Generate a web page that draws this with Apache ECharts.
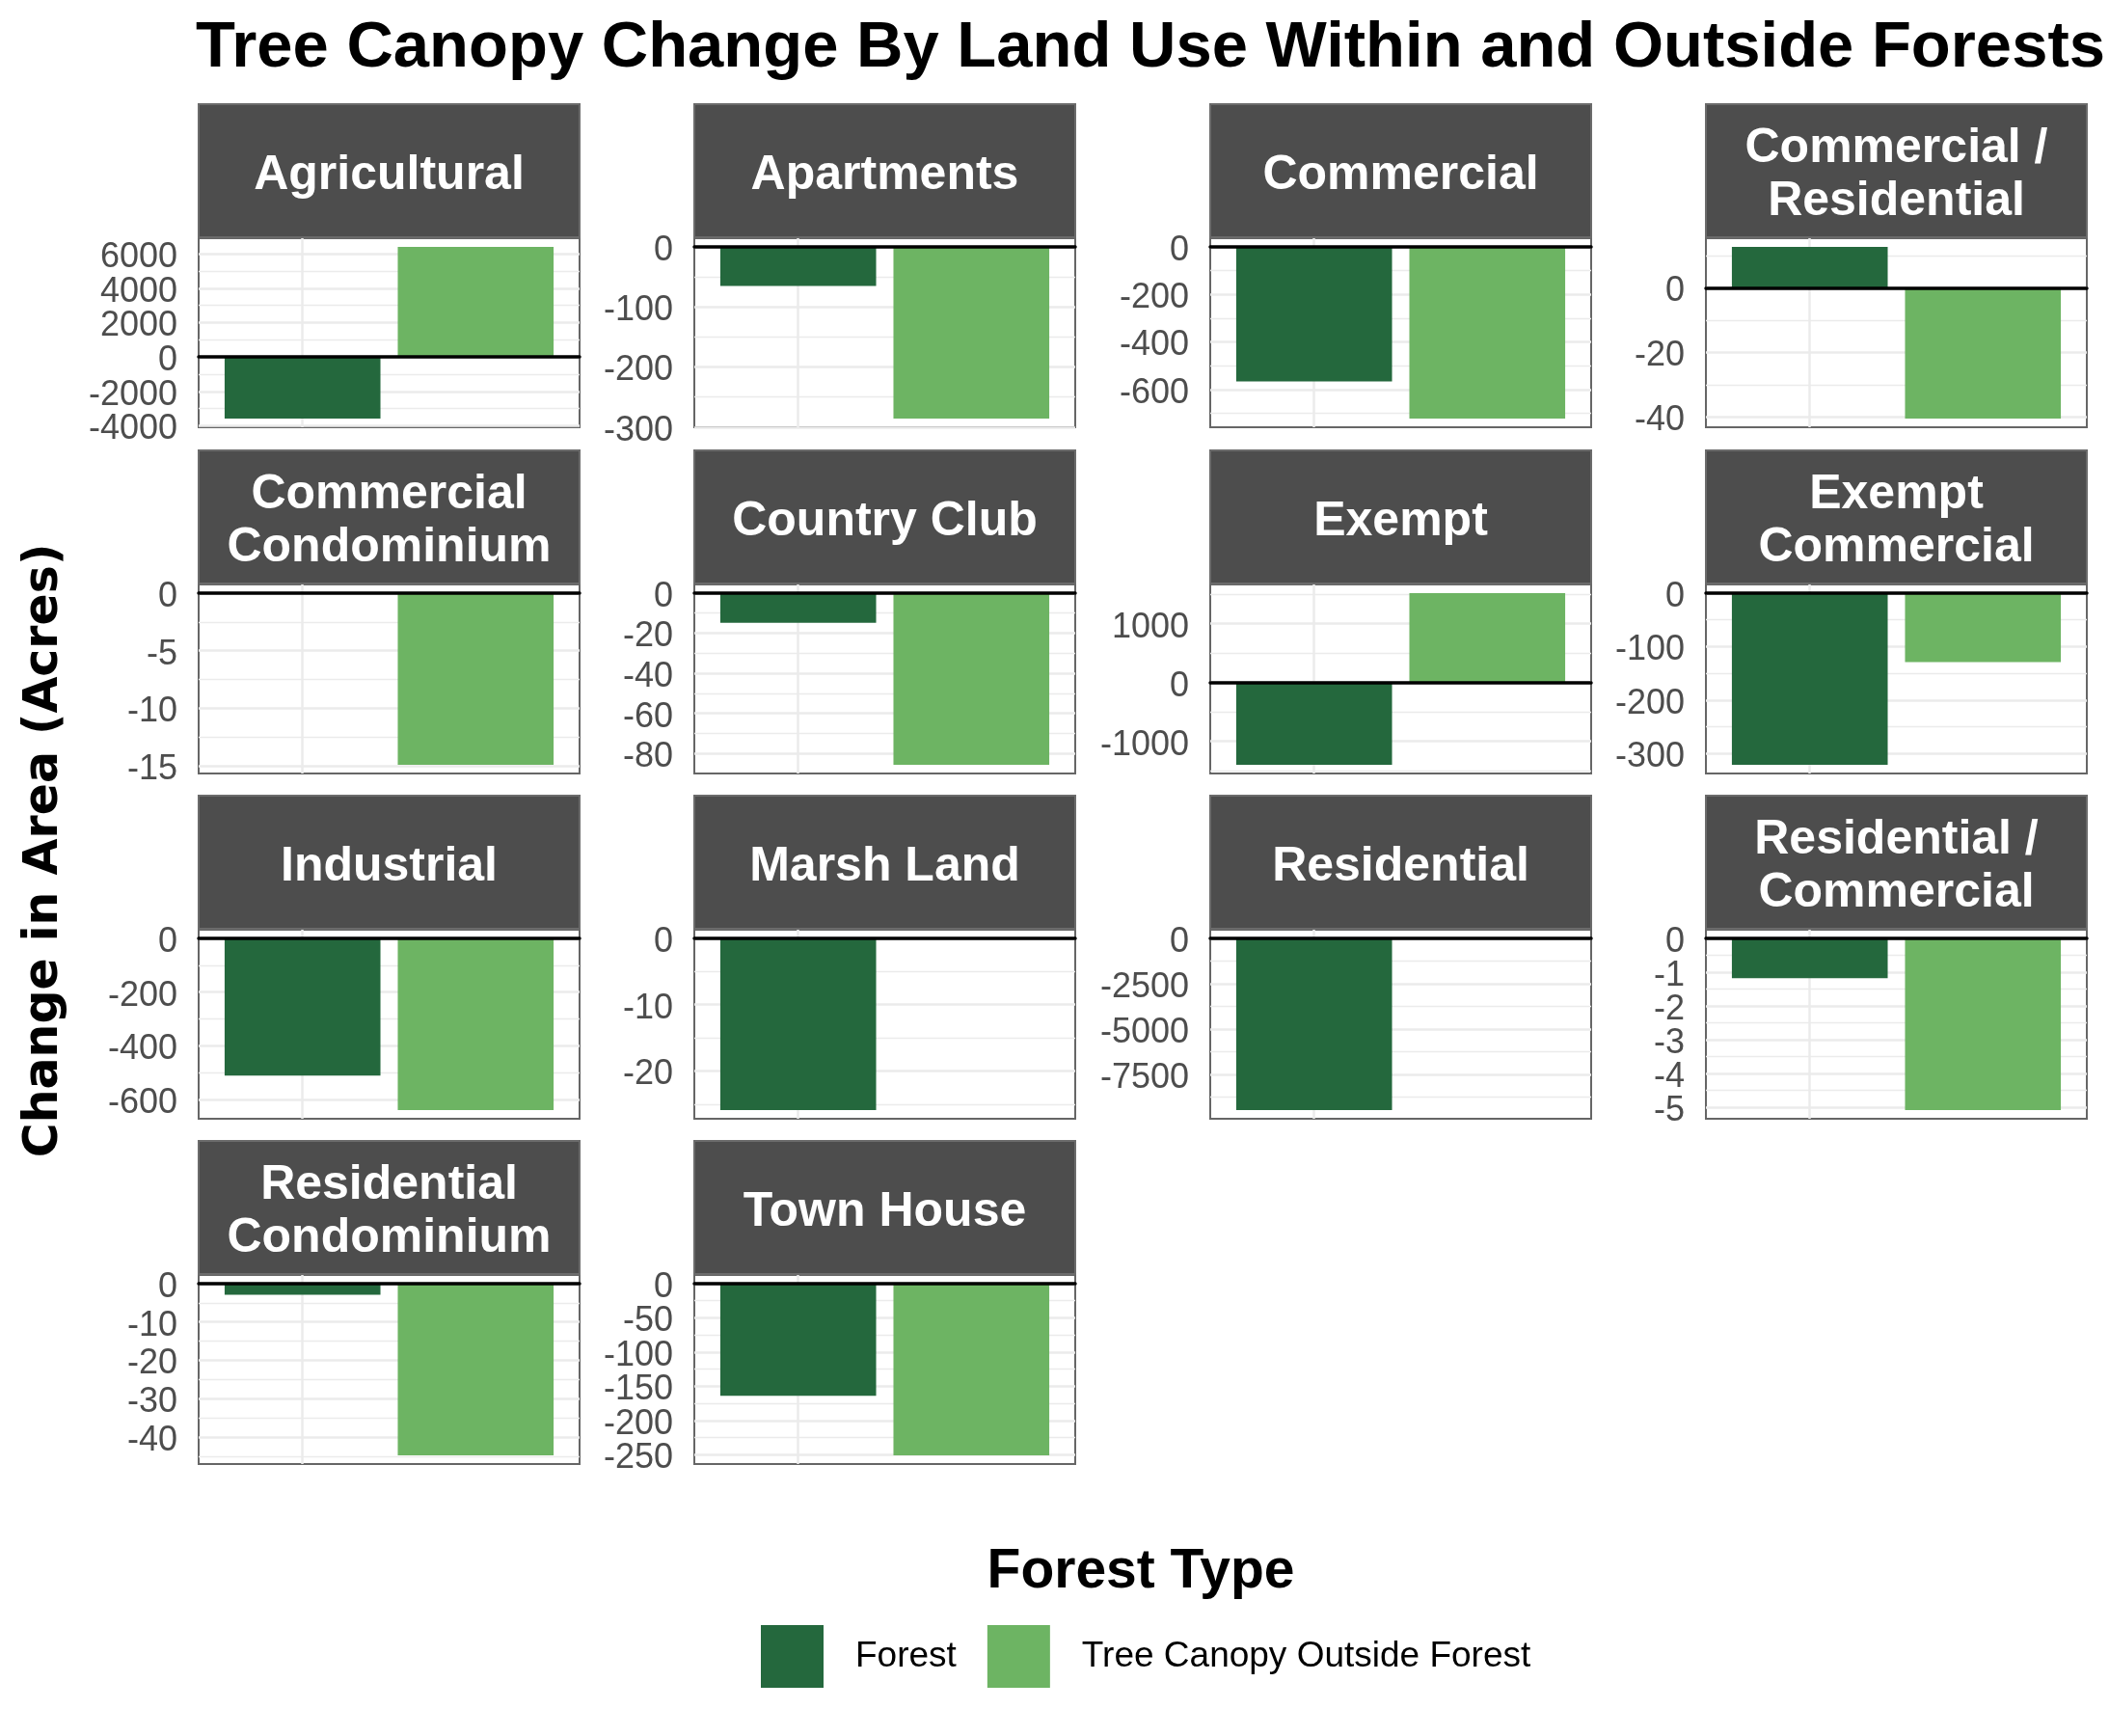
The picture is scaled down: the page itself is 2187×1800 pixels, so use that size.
<!DOCTYPE html>
<html><head><meta charset="utf-8">
<script src="https://cdn.jsdelivr.net/npm/echarts@6/dist/echarts.min.js"></script>
<style>html,body{margin:0;padding:0;background:#fff}#chart{width:2187px;height:1800px}</style>
</head><body><div id="chart"></div>
<script>
// ---------------- data ----------------
const landUses = ['Agricultural','Apartments','Commercial','Commercial / Residential',
  'Commercial Condominium','Country Club','Exempt','Exempt Commercial',
  'Industrial','Marsh Land','Residential','Residential / Commercial',
  'Residential Condominium','Town House'];
const forestTypes = ['Forest','Tree Canopy Outside Forest'];
const forestChange  = [-3589, -65, -566, 12.7, 0, -14.8, -1402, -321, -511, -25.9, -9466, -1.18, -2.9, -164];
const outsideChange = [6411, -286, -723, -40.5, -14.9, -85.7, 1522, -129, -640, 0, 0, -5.09, -44.8, -251];
const yTicks = [
  [-4000,-2000,0,2000,4000,6000],
  [-300,-200,-100,0],
  [-600,-400,-200,0],
  [-40,-20,0],
  [-15,-10,-5,0],
  [-80,-60,-40,-20,0],
  [-1000,0,1000],
  [-300,-200,-100,0],
  [-600,-400,-200,0],
  [-20,-10,0],
  [-7500,-5000,-2500,0],
  [-5,-4,-3,-2,-1,0],
  [-40,-30,-20,-10,0],
  [-250,-200,-150,-100,-50,0]
];

// ---------------- layout ----------------
const colLeft = [206, 720, 1255, 1769];
const rowTop = [108, 467, 825, 1183];
const panelW = 395, stripH = 138, plotOff = 139, plotH = 196;
const colors = ['#24683d', '#6db463'];
const FONT = '"Liberation Sans", Arial, sans-serif';

function wrap(s, width) {
  const words = s.split(' '); const lines = []; let cur = '';
  for (const w of words) {
    if (!cur) cur = w;
    else if ((cur + ' ' + w).length <= width) cur += ' ' + w;
    else { lines.push(cur); cur = w; }
  }
  lines.push(cur);
  return lines.join('\n');
}

const labelStyle = (vals) => ({customValues: vals, formatter: v => String(v), fontSize: 36,
  color: '#4d4d4d', fontFamily: FONT, margin: 22, verticalAlign: 'top', lineHeight: 8,
  showMinLabel: true, showMaxLabel: true, hideOverlap: false});

const grids = [], xAxes = [], yAxes = [], series = [], graphics = [];

landUses.forEach((name, i) => {
  const r = Math.floor(i / 4), c = i % 4;
  const left = colLeft[c], top = rowTop[r] + plotOff;
  const vals = [forestChange[i], outsideChange[i]];
  const lo = Math.min(0, ...vals), hi = Math.max(0, ...vals);
  const pad = (hi - lo) * 0.05;
  const yMin = lo - pad, yMax = hi + pad;
  const ticks = yTicks[i];
  const evenTicks = ticks.filter((v, k) => k % 2 === 0);
  const oddTicks = ticks.filter((v, k) => k % 2 === 1);
  const step = ticks[1] - ticks[0];
  const minor = [];
  for (let k = -1; k < ticks.length; k++) {
    const v = ticks[0] + step * (k + 0.5);
    if (v > yMin && v < yMax) minor.push(v);
  }
  const unit = panelW / 2.2;

  grids.push({left: left, top: top, width: panelW, height: plotH, show: true,
    borderColor: '#666666', borderWidth: 2, backgroundColor: '#ffffff'});
  grids.push({left: left + 0.6 * unit, top: top, width: unit, height: plotH, show: false});

  xAxes.push({gridIndex: 2*i, type: 'category', data: forestTypes,
    axisLabel: {show: false}, axisTick: {show: false}, splitLine: {show: false},
    axisLine: {show: true, onZero: true, lineStyle: {color: '#000', width: 3.5}}, z: 5});
  xAxes.push({gridIndex: 2*i+1, type: 'category', boundaryGap: false, data: forestTypes,
    axisLabel: {show: false}, axisTick: {show: false}, axisLine: {show: false},
    splitLine: {show: true, lineStyle: {color: '#ebebeb', width: 2.5}}});

  // major gridlines + every other tick label
  yAxes.push({gridIndex: 2*i, type: 'value', min: yMin, max: yMax, position: 'left',
    axisLine: {show: false}, axisTick: {show: false, customValues: ticks},
    axisLabel: labelStyle(evenTicks),
    splitLine: {show: true, lineStyle: {color: '#ebebeb', width: 2.5}}});
  // minor gridlines
  yAxes.push({gridIndex: 2*i, type: 'value', min: yMin, max: yMax, position: 'right',
    axisLine: {show: false}, axisTick: {show: false, customValues: minor},
    axisLabel: {show: false},
    splitLine: {show: true, lineStyle: {color: '#ebebeb', width: 1.3}}});
  // remaining tick labels
  yAxes.push({gridIndex: 2*i, type: 'value', min: yMin, max: yMax, position: 'left', offset: 0,
    axisLine: {show: false}, axisTick: {show: false, customValues: oddTicks.length ? oddTicks : evenTicks},
    axisLabel: Object.assign(labelStyle(oddTicks), {show: oddTicks.length > 0}),
    splitLine: {show: false}});
  // bar axis
  yAxes.push({gridIndex: 2*i+1, type: 'value', min: yMin, max: yMax, show: false});

  forestTypes.forEach((t, j) => {
    series.push({type: 'bar', name: t, xAxisIndex: 2*i+1, yAxisIndex: 4*i+3,
      data: forestTypes.map((tt, k) => k === j ? vals[j] : null),
      barWidth: unit * 0.9, barGap: '-100%', clip: false, silent: true,
      itemStyle: {color: colors[j]}});
  });

  graphics.push({type: 'rect', silent: true,
    shape: {x: left, y: rowTop[r], width: panelW, height: stripH},
    style: {fill: '#4d4d4d', stroke: '#6b6b6b', lineWidth: 2}});
  graphics.push({type: 'text', silent: true,
    style: {x: left + panelW/2, y: rowTop[r] + stripH/2 + 5, text: wrap(name, 13),
      fill: '#ffffff', font: 'bold 50px ' + FONT, align: 'center', verticalAlign: 'middle',
      textAlign: 'center', textVerticalAlign: 'middle', lineHeight: 55}});
});

graphics.push({type: 'text', silent: true, x: 46, y: 882, rotation: Math.PI/2,
  style: {x: 0, y: 0, text: 'Change in Area (Acres)', fill: '#000',
    font: 'bold 49px "DejaVu Sans", sans-serif', align: 'center', verticalAlign: 'middle',
    textAlign: 'center', textVerticalAlign: 'middle'}});

const chart = echarts.init(document.getElementById('chart'), null, {renderer: 'canvas'});
chart.setOption({
  animation: false,
  backgroundColor: '#ffffff',
  title: [
    {text: 'Tree Canopy Change By Land Use Within and Outside Forests', left: 1193, top: 17,
      textAlign: 'center', padding: 0,
      textStyle: {fontSize: 67, fontWeight: 'bold', fontFamily: FONT, color: '#000'}},
    {text: 'Forest Type', left: 1183, top: 1602, textAlign: 'center', padding: 0,
      textStyle: {fontSize: 57, fontWeight: 'bold', fontFamily: FONT, color: '#000'}}
  ],
  legend: {data: forestTypes, left: 789, top: 1685, orient: 'horizontal',
    itemWidth: 65, itemHeight: 65, itemGap: 32, icon: 'rect', padding: 0,
    selectedMode: false,
    textStyle: {fontSize: 37, color: '#000', fontFamily: FONT, padding: [0, 0, 0, 28]}},
  grid: grids,
  xAxis: xAxes,
  yAxis: yAxes,
  series: series,
  graphic: graphics
});
</script>
</body></html>
